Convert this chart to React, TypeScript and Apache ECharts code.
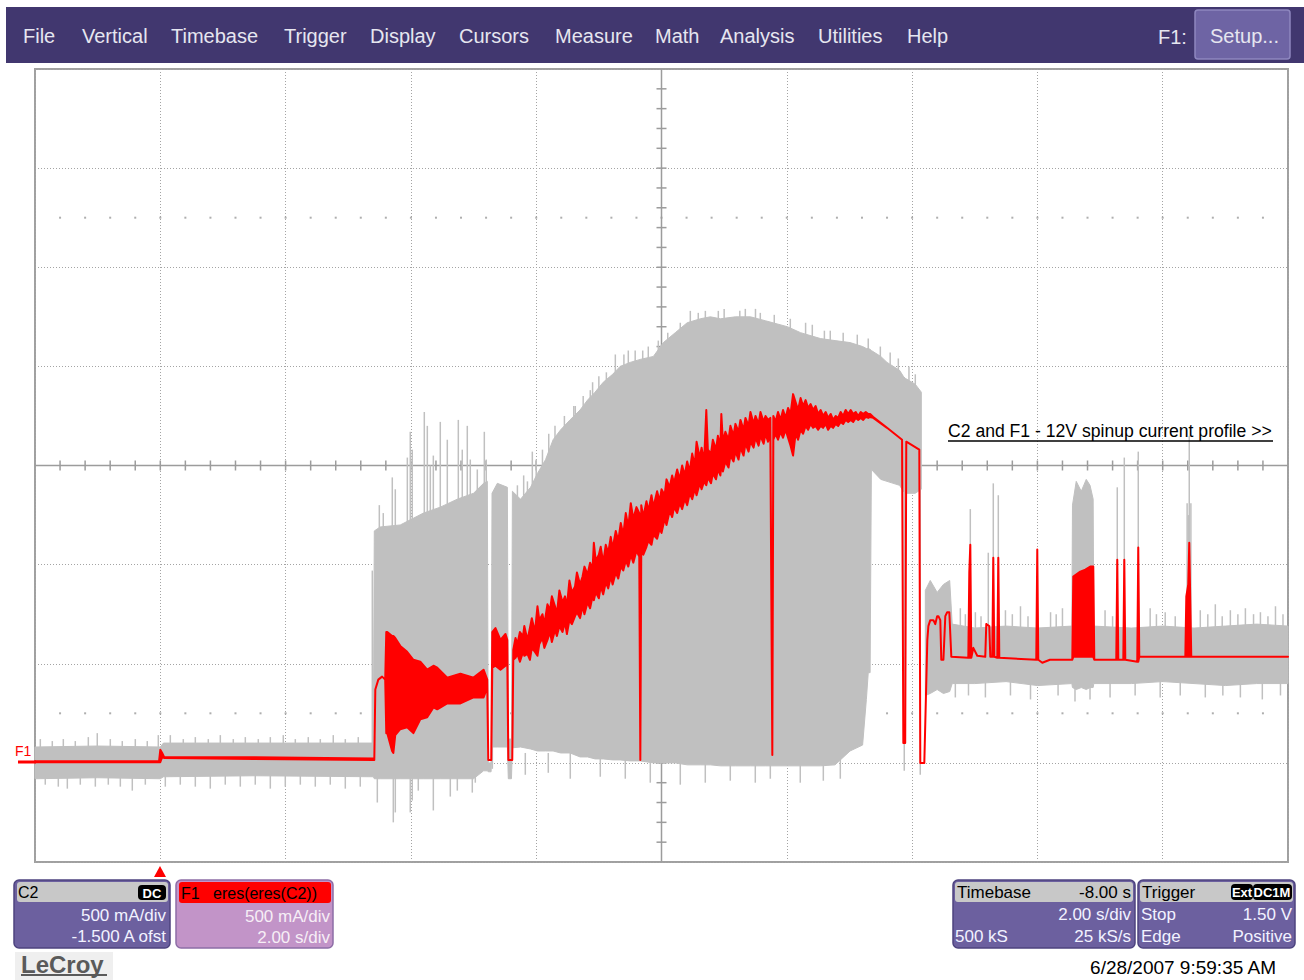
import React, { useEffect, useRef } from "react";
import * as echarts from "echarts";

// ---------- scales: 2.00 s/div, 500 mA/div, -1.500 A offset ----------
const TIME_MIN = -2;
const TIME_MAX = 18;
const TIME_DIV = 2;
const AMP_MIN = -0.5;
const AMP_MAX = 3.5;
const AMP_DIV = 0.5;
const CENTER_T = 8;
const CENTER_A = 1.5;
const MINOR_T = 0.4;
const MINOR_A = 0.1;

type Row = [number, number, number]; // [time s, low A, high A]

// C2 (raw current, grey) min/max envelope; null splits separate blocks
const c2Envelope: (Row | null)[] = [
  [-2.0, -0.08, 0.08], [-1.0, -0.075, 0.085], [0.0, -0.08, 0.08], [0.05, -0.07, 0.1],
  [1.5, -0.065, 0.1], [3.4, -0.07, 0.1],
  [3.416, -0.08, 1.17], [3.51, -0.08, 1.19], [3.83, -0.08, 1.2], [4.2, -0.08, 1.26],
  [4.47, -0.08, 1.29], [4.74, -0.08, 1.33], [5.0, -0.08, 1.36], [5.16, -0.04, 1.41],
  [5.22, -0.04, 1.42], [5.235, -0.045, 0.0], [5.28, -0.045, 0.0],
  [5.295, 0.08, 1.36], [5.38, 0.08, 1.41], [5.54, 0.08, 1.39],
  [5.555, -0.08, 0.12], [5.605, -0.08, 0.12],
  [5.62, 0.076, 1.37], [5.75, 0.08, 1.33], [5.91, 0.07, 1.39], [6.02, 0.06, 1.46],
  [6.15, 0.06, 1.53], [6.27, 0.06, 1.63], [6.39, 0.05, 1.68], [6.54, 0.05, 1.73],
  [6.7, 0.03, 1.78], [6.82, 0.03, 1.83], [6.94, 0.02, 1.87], [7.07, 0.02, 1.92],
  [7.22, 0.015, 1.96], [7.34, 0.015, 2.0], [7.5, 0.01, 2.02], [7.66, 0.01, 2.035],
  [7.87, 0.0, 2.05], [8.03, 0.0, 2.12], [8.22, 0.0, 2.17], [8.41, -0.01, 2.22],
  [8.62, -0.01, 2.24], [8.78, -0.01, 2.25], [8.94, -0.015, 2.24], [9.18, -0.015, 2.25],
  [9.42, -0.015, 2.25], [9.66, -0.015, 2.23], [10.01, -0.015, 2.2], [10.22, -0.015, 2.17],
  [10.54, -0.015, 2.14], [10.77, -0.01, 2.13], [11.01, 0.06, 2.12], [11.21, 0.09, 2.1],
  [11.27, 0.32, 2.09], [11.3, 0.455, 2.09], [11.33, 0.455, 2.086], [11.35, 1.48, 2.08],
  [11.5, 1.43, 2.05], [11.6, 1.42, 2.02], [11.8, 1.4, 1.98], [11.86, 1.37, 1.95],
  [11.89, 1.36, 1.94], [12.05, 1.36, 1.91], [12.147, 1.38, 1.87],
  null,
  [12.211, 0.34, 0.87], [12.29, 0.35, 0.92], [12.4, 0.37, 0.86], [12.5, 0.35, 0.9],
  [12.6, 0.36, 0.92], [12.64, 0.4, 0.7], [13.0, 0.4, 0.68], [13.5, 0.41, 0.69],
  [14.0, 0.39, 0.68], [14.55, 0.4, 0.69], [14.56, 0.38, 1.3], [14.62, 0.37, 1.42],
  [14.7, 0.38, 1.37], [14.78, 0.37, 1.43], [14.84, 0.38, 1.4], [14.89, 0.38, 1.33],
  [14.9, 0.4, 0.69], [15.5, 0.4, 0.68], [16.0, 0.41, 0.69], [16.5, 0.4, 0.68],
  [17.0, 0.39, 0.69], [17.5, 0.4, 0.7], [18.0, 0.4, 0.69],
];

// C2 single-sample excursions (hairlines)
const c2Spikes: Row[] = [
  [-1.915, 0.05, 0.12], [-1.724, 0.05, 0.11], [-1.548, 0.05, 0.12], [-1.357, 0.05, 0.11],
  [-1.149, 0.05, 0.13], [-1.006, 0.05, 0.15], [-0.798, 0.05, 0.12], [-0.607, 0.05, 0.11],
  [-0.399, 0.05, 0.12], [-0.208, 0.05, 0.11], [-0.032, 0.05, 0.14], [0.16, 0.05, 0.14],
  [0.367, 0.05, 0.12], [0.559, 0.05, 0.13], [0.766, 0.05, 0.12], [0.958, 0.05, 0.14],
  [1.165, 0.05, 0.12], [1.357, 0.05, 0.13], [1.564, 0.05, 0.12], [1.756, 0.05, 0.13],
  [1.963, 0.05, 0.14], [2.155, 0.05, 0.12], [2.362, 0.05, 0.13], [2.554, 0.05, 0.12],
  [2.761, 0.05, 0.14], [2.953, 0.05, 0.12], [3.16, 0.05, 0.13],
  [-1.836, -0.11, -0.05], [-1.628, -0.12, -0.05], [-1.484, -0.13, -0.05], [-1.277, -0.11, -0.05],
  [-1.037, -0.12, -0.05], [-0.83, -0.11, -0.05], [-0.638, -0.12, -0.05], [-0.447, -0.14, -0.05],
  [-0.239, -0.11, -0.05], [0.08, -0.12, -0.05], [0.319, -0.11, -0.05], [0.559, -0.12, -0.05],
  [0.798, -0.13, -0.05], [1.037, -0.11, -0.05], [1.277, -0.12, -0.05], [1.516, -0.11, -0.05],
  [1.756, -0.13, -0.05], [1.995, -0.12, -0.05], [2.235, -0.11, -0.05], [2.474, -0.12, -0.05],
  [2.713, -0.11, -0.05], [2.953, -0.13, -0.05], [3.192, -0.12, -0.05],
  [3.384, 0.0, 0.97],
  [3.496, 1.1, 1.3], [3.559, 1.1, 1.26], [3.703, 1.1, 1.44], [3.751, 1.1, 1.38],
  [3.943, 1.1, 1.54], [3.99, 1.1, 1.67], [4.022, 1.1, 1.58], [4.214, 1.1, 1.77],
  [4.262, 1.1, 1.7], [4.31, 1.1, 1.5], [4.358, 1.1, 1.55], [4.469, 1.1, 1.72],
  [4.581, 1.1, 1.63], [4.757, 1.1, 1.73], [4.82, 1.1, 1.58], [4.9, 1.1, 1.7],
  [4.948, 1.1, 1.53], [5.06, 1.2, 1.48], [5.172, 1.2, 1.67], [5.203, 1.2, 1.53],
  [3.464, -0.2, -0.05], [3.719, -0.3, -0.05], [3.751, -0.25, -0.05], [3.99, -0.25, -0.05],
  [4.022, -0.19, -0.05], [4.118, -0.14, -0.05], [4.358, -0.24, -0.05], [4.629, -0.17, -0.05],
  [4.741, -0.14, -0.05], [4.98, -0.15, -0.05], [5.028, -0.1, -0.05], [5.3, -0.03, 0.1],
  [5.7, 1.2, 1.4], [5.8, 1.2, 1.45], [5.86, 1.2, 1.42], [5.938, 1.3, 1.57], [6.0, 1.3, 1.53],
  [6.1, 1.3, 1.58], [6.2, 1.4, 1.66], [6.3, 1.5, 1.7], [6.45, 1.5, 1.75], [6.6, 1.6, 1.8],
  [6.624, 1.6, 1.8], [6.75, 1.6, 1.85], [6.863, 1.7, 1.88], [6.9, 1.7, 1.92], [7.0, 1.7, 1.95],
  [7.12, 1.8, 1.97], [7.263, 1.9, 2.06], [7.4, 1.9, 2.06], [7.47, 1.9, 2.08], [7.58, 1.9, 2.08],
  [7.7, 1.9, 2.08], [7.789, 1.9, 2.1], [7.949, 1.9, 2.13], [8.1, 2.0, 2.17], [8.3, 2.0, 2.22],
  [8.46, 2.1, 2.28], [8.587, 2.1, 2.27], [8.7, 2.1, 2.28], [8.907, 2.1, 2.28], [9.0, 2.1, 2.29],
  [9.25, 2.1, 2.28], [9.338, 2.1, 2.29], [9.5, 2.1, 2.29], [9.577, 2.1, 2.27], [9.8, 2.1, 2.26],
  [10.056, 2.1, 2.24], [10.3, 2.0, 2.22], [10.407, 2.0, 2.21], [10.6, 2.0, 2.18], [10.694, 2.0, 2.18],
  [10.9, 2.0, 2.17], [11.125, 2.0, 2.16], [11.3, 2.0, 2.14], [11.493, 1.9, 2.1], [11.65, 1.9, 2.07],
  [11.78, 1.9, 2.04], [11.95, 1.8, 2.0], [12.051, 1.8, 1.96],
  [5.826, -0.06, 0.05], [6.193, -0.05, 0.05], [6.544, -0.08, 0.05], [7.023, -0.07, 0.05],
  [7.422, -0.08, 0.05], [7.821, -0.1, 0.05], [8.3, -0.11, 0.05], [8.699, -0.1, 0.05],
  [9.098, -0.09, 0.05], [9.497, -0.1, 0.05], [9.737, -0.08, 0.05], [10.215, -0.1, 0.05],
  [10.583, -0.09, 0.05], [10.854, -0.08, 0.05],
  [11.875, -0.04, 1.4], [12.13, -0.06, 1.4],
  [12.929, 0.5, 1.28], [13.216, 0.5, 1.06], [13.296, 0.5, 1.41], [13.376, 0.5, 1.35],
  [15.275, 0.5, 1.39], [15.387, 0.5, 1.54], [15.61, 0.5, 1.57], [16.424, 0.5, 1.65],
  [16.39, 0.5, 1.31], [16.41, 0.5, 1.25], [16.45, 0.5, 1.31],
  [12.77, 0.6, 0.78], [12.85, 0.6, 0.75], [13.01, 0.6, 0.76], [13.1, 0.6, 0.74], [13.49, 0.6, 0.77],
  [13.6, 0.6, 0.75], [13.73, 0.6, 0.79], [13.85, 0.6, 0.74], [14.21, 0.6, 0.76], [14.3, 0.6, 0.75],
  [14.4, 0.6, 0.78], [15.08, 0.6, 0.77], [15.2, 0.6, 0.74], [15.8, 0.6, 0.78], [15.9, 0.6, 0.75],
  [16.04, 0.6, 0.76], [16.2, 0.6, 0.74], [16.6, 0.6, 0.77], [16.72, 0.6, 0.75], [16.84, 0.6, 0.8],
  [16.95, 0.6, 0.74], [17.08, 0.6, 0.77], [17.2, 0.6, 0.75], [17.32, 0.6, 0.78], [17.45, 0.6, 0.75],
  [17.56, 0.6, 0.76], [17.68, 0.6, 0.74], [17.8, 0.6, 0.79], [17.92, 0.6, 0.75],
  [12.69, 0.33, 0.5], [12.9, 0.34, 0.5], [13.17, 0.33, 0.5], [13.57, 0.34, 0.5],
  [13.89, 0.32, 0.5], [14.33, 0.34, 0.5], [14.6, 0.31, 0.5], [14.84, 0.32, 0.5],
  [15.16, 0.33, 0.5], [15.56, 0.34, 0.5], [15.96, 0.33, 0.5], [16.28, 0.34, 0.5],
  [16.68, 0.33, 0.5], [16.96, 0.34, 0.5], [17.24, 0.33, 0.5], [17.59, 0.32, 0.5],
  [17.88, 0.34, 0.5],
];

// F1 = eres(eres(C2)) (red), min/max per time step
const f1Trace: Row[] = [
  [-2.0, 0.003, 0.008], [-0.02, 0.003, 0.008], [0.0, 0.003, 0.066], [0.03, 0.03, 0.05],
  [0.06, 0.025, 0.03], [1.5, 0.02, 0.028], [3.4, 0.015, 0.022], [3.416, 0.015, 0.022],
  [3.432, 0.37, 0.37], [3.48, 0.42, 0.42], [3.54, 0.435, 0.435], [3.59, 0.42, 0.42],
  [3.607, 0.15, 0.66], [3.623, 0.15, 0.66], [3.7, 0.06, 0.64], [3.72, 0.05, 0.64],
  [3.75, 0.14, 0.63], [3.83, 0.17, 0.59], [3.94, 0.18, 0.56], [4.04, 0.15, 0.52],
  [4.15, 0.22, 0.51], [4.26, 0.23, 0.47], [4.36, 0.28, 0.49], [4.42, 0.27, 0.48],
  [4.58, 0.3, 0.43], [4.79, 0.3, 0.45], [5.0, 0.33, 0.43], [5.16, 0.33, 0.47],
  [5.219, 0.38, 0.42], [5.235, 0.015, 0.015], [5.283, 0.015, 0.015],
  [5.299, 0.48, 0.66], [5.35, 0.49, 0.68], [5.43, 0.47, 0.62], [5.51, 0.49, 0.65],
  [5.539, 0.5, 0.62], [5.555, 0.015, 0.015], [5.618, 0.015, 0.015], [5.634, 0.52, 0.57],
  [5.67, 0.53, 0.63], [5.7, 0.55, 0.6], [5.74, 0.51, 0.66], [5.79, 0.56, 0.64],
  [5.81, 0.54, 0.69], [5.86, 0.55, 0.62], [5.9, 0.52, 0.68], [5.93, 0.58, 0.73],
  [5.98, 0.56, 0.66], [6.02, 0.54, 0.79], [6.05, 0.6, 0.72], [6.1, 0.63, 0.75],
  [6.13, 0.58, 0.7], [6.18, 0.62, 0.8], [6.22, 0.66, 0.77], [6.25, 0.61, 0.84],
  [6.3, 0.67, 0.79], [6.33, 0.64, 0.75], [6.37, 0.69, 0.87], [6.42, 0.66, 0.81],
  [6.46, 0.71, 0.84], [6.49, 0.65, 0.79], [6.53, 0.72, 0.92], [6.57, 0.7, 0.86],
  [6.62, 0.74, 0.89], [6.65, 0.76, 0.96], [6.7, 0.73, 0.9], [6.74, 0.79, 0.94],
  [6.77, 0.75, 0.99], [6.82, 0.81, 0.95], [6.86, 0.78, 1.01], [6.9, 0.84, 0.98],
  [6.92, 0.82, 1.11], [6.95, 0.86, 1.02], [7.0, 0.83, 1.05], [7.03, 0.89, 1.09],
  [7.07, 0.85, 1.01], [7.11, 0.91, 1.1], [7.15, 0.88, 1.06], [7.19, 0.94, 1.14],
  [7.22, 0.9, 1.08], [7.27, 0.96, 1.17], [7.31, 0.93, 1.12], [7.35, 0.99, 1.21],
  [7.39, 0.97, 1.15], [7.43, 1.02, 1.26], [7.47, 0.99, 1.19], [7.51, 1.05, 1.31],
  [7.55, 1.01, 1.23], [7.6, 1.07, 1.29], [7.645, 1.04, 1.26], [7.662, 0.015, 0.015],
  [7.677, 1.08, 1.3], [7.71, 1.05, 1.24], [7.76, 1.09, 1.32], [7.79, 1.12, 1.27],
  [7.84, 1.1, 1.35], [7.87, 1.15, 1.29], [7.93, 1.13, 1.37], [7.97, 1.18, 1.32],
  [8.0, 1.16, 1.38], [8.05, 1.23, 1.35], [8.08, 1.2, 1.43], [8.13, 1.27, 1.39],
  [8.17, 1.24, 1.45], [8.2, 1.29, 1.41], [8.25, 1.26, 1.48], [8.29, 1.31, 1.43],
  [8.33, 1.28, 1.5], [8.37, 1.33, 1.45], [8.41, 1.3, 1.52], [8.45, 1.36, 1.47],
  [8.49, 1.33, 1.56], [8.53, 1.38, 1.5], [8.56, 1.35, 1.62], [8.61, 1.41, 1.54],
  [8.64, 1.38, 1.59], [8.68, 1.42, 1.52], [8.715, 1.4, 1.78], [8.74, 1.44, 1.58],
  [8.79, 1.41, 1.56], [8.82, 1.46, 1.63], [8.87, 1.43, 1.58], [8.9, 1.48, 1.65],
  [8.94, 1.45, 1.6], [8.955, 1.5, 1.76], [8.98, 1.47, 1.62], [9.02, 1.52, 1.67],
  [9.07, 1.49, 1.63], [9.1, 1.55, 1.7], [9.15, 1.52, 1.65], [9.18, 1.57, 1.71],
  [9.23, 1.53, 1.67], [9.26, 1.59, 1.73], [9.31, 1.55, 1.68], [9.34, 1.61, 1.74],
  [9.39, 1.57, 1.7], [9.42, 1.62, 1.77], [9.47, 1.59, 1.71], [9.5, 1.64, 1.75],
  [9.55, 1.6, 1.71], [9.58, 1.65, 1.77], [9.63, 1.61, 1.72], [9.66, 1.66, 1.75],
  [9.7, 1.62, 1.73], [9.737, 1.65, 1.74], [9.769, 0.04, 0.04], [9.785, 1.63, 1.75],
  [9.82, 1.66, 1.72], [9.86, 1.63, 1.77], [9.9, 1.67, 1.73], [9.94, 1.64, 1.78],
  [9.98, 1.68, 1.74], [10.02, 1.64, 1.79], [10.06, 1.6, 1.76], [10.1, 1.55, 1.86],
  [10.14, 1.66, 1.82], [10.18, 1.63, 1.78], [10.22, 1.68, 1.84], [10.26, 1.66, 1.8],
  [10.3, 1.7, 1.83], [10.34, 1.68, 1.79], [10.38, 1.71, 1.81], [10.42, 1.69, 1.78],
  [10.46, 1.7, 1.8], [10.5, 1.68, 1.76], [10.54, 1.7, 1.78], [10.58, 1.69, 1.75],
  [10.62, 1.71, 1.77], [10.66, 1.68, 1.74], [10.7, 1.7, 1.76], [10.74, 1.69, 1.73],
  [10.78, 1.71, 1.75], [10.82, 1.7, 1.74], [10.86, 1.72, 1.77], [10.9, 1.71, 1.75],
  [10.94, 1.73, 1.78], [10.98, 1.72, 1.76], [11.02, 1.73, 1.78], [11.06, 1.72, 1.76],
  [11.1, 1.74, 1.77], [11.14, 1.73, 1.75], [11.18, 1.74, 1.77], [11.22, 1.73, 1.76],
  [11.26, 1.745, 1.77], [11.3, 1.74, 1.76], [11.33, 1.745, 1.76], [11.38, 1.74, 1.745],
  [11.6, 1.69, 1.69], [11.84, 1.63, 1.63],
  [11.86, 0.1, 0.1], [11.89, 0.1, 0.1], [11.907, 1.62, 1.62], [12.115, 1.58, 1.58],
  [12.131, 0.0, 0.0], [12.195, 0.0, 0.0], [12.243, 0.62, 0.62], [12.26, 0.69, 0.69],
  [12.29, 0.72, 0.72], [12.34, 0.72, 0.72], [12.37, 0.7, 0.7], [12.4, 0.74, 0.74],
  [12.42, 0.74, 0.74], [12.45, 0.72, 0.72], [12.466, 0.52, 0.52], [12.5, 0.52, 0.52],
  [12.53, 0.74, 0.74], [12.56, 0.76, 0.76], [12.594, 0.76, 0.76], [12.626, 0.535, 0.535],
  [12.897, 0.53, 0.53], [12.913, 0.53, 0.96], [12.929, 0.53, 1.1], [12.945, 0.53, 0.53],
  [12.977, 0.58, 0.58], [13.04, 0.54, 0.54], [13.168, 0.535, 0.535], [13.184, 0.7, 0.7],
  [13.232, 0.69, 0.69], [13.248, 0.535, 0.535], [13.28, 0.535, 0.535], [13.296, 0.535, 1.035],
  [13.312, 0.535, 0.535], [13.36, 0.53, 0.53], [13.376, 0.53, 1.035], [13.392, 0.53, 0.53],
  [13.982, 0.52, 0.52], [13.998, 0.52, 1.076], [14.014, 0.52, 0.52], [14.078, 0.505, 0.505],
  [14.2, 0.52, 0.52], [14.557, 0.52, 0.52], [14.573, 0.535, 0.94], [14.685, 0.535, 0.965],
  [14.765, 0.535, 0.975], [14.844, 0.535, 0.99], [14.892, 0.535, 0.99], [14.908, 0.52, 0.52],
  [15.259, 0.52, 0.52], [15.275, 0.52, 1.025], [15.291, 0.52, 0.52], [15.371, 0.52, 0.52],
  [15.387, 0.52, 1.025], [15.403, 0.52, 0.52], [15.594, 0.51, 0.51], [15.61, 0.51, 1.086],
  [15.626, 0.535, 0.535], [16.361, 0.535, 0.535], [16.377, 0.535, 0.84], [16.408, 0.535, 0.9],
  [16.424, 0.535, 1.11], [16.44, 0.535, 0.82], [16.456, 0.535, 0.535], [18.0, 0.535, 0.535],
];

// ---------- texts ----------
const menuItems = ["File", "Vertical", "Timebase", "Trigger", "Display", "Cursors", "Measure", "Math", "Analysis", "Utilities", "Help"];
const menuLeft = [23, 82, 171, 284, 370, 459, 555, 655, 720, 818, 907];
const annotation = "C2 and F1 - 12V spinup current profile >>";
const c2Lines = ["500 mA/div", "-1.500 A ofst"];
const f1Title = "F1   eres(eres(C2))";
const f1Lines = ["500 mA/div", "2.00 s/div"];
const timebaseHead = ["Timebase", "-8.00 s"];
const timebaseRows = [["", "2.00 s/div"], ["500 kS", "25 kS/s"]];
const triggerRows = [["Stop", "1.50 V"], ["Edge", "Positive"]];
const timestamp = "6/28/2007 9:59:35 AM";

const FONT = '"Liberation Sans", Arial, sans-serif';

function txt(text: string, x: number, y: number, size: number, fill: string, align = "left", weight = "normal") {
  return {
    type: "text",
    z: 20,
    style: {
      text, x, y, fill,
      font: `${weight} ${size}px ${FONT}`,
      align, verticalAlign: "middle",
      textAlign: align, textVerticalAlign: "middle",
    },
  };
}
function rect(x: number, y: number, w: number, h: number, fill: string, r = 0, stroke?: string, lw = 1) {
  return {
    type: "rect", z: 10,
    shape: { x, y, width: w, height: h, r },
    style: { fill, stroke: stroke || null, lineWidth: lw },
  };
}

function bandRender(rows: (Row | null)[], color: string, width: number) {
  return (_p: any, api: any) => {
    const segs: Row[][] = [];
    let cur: Row[] = [];
    rows.forEach((r) => {
      if (r) cur.push(r);
      else { if (cur.length) segs.push(cur); cur = []; }
    });
    if (cur.length) segs.push(cur);
    const children = segs.map((seg) => {
      const top = seg.map((r) => api.coord([r[0], r[2]]));
      const bot = seg.slice().reverse().map((r) => api.coord([r[0], r[1]]));
      return {
        type: "polygon",
        shape: { points: top.concat(bot) },
        style: { fill: color, stroke: color, lineWidth: width, lineJoin: "round" },
      };
    });
    return { type: "group", children };
  };
}

function spikeRender(color: string, width: number) {
  return (_p: any, api: any) => {
    const a = api.coord([api.value(0), api.value(1)]);
    const b = api.coord([api.value(0), api.value(2)]);
    return {
      type: "line",
      shape: { x1: a[0], y1: a[1], x2: b[0], y2: b[1] },
      style: { stroke: color, lineWidth: width },
    };
  };
}

export default function App() {
  const ref = useRef<HTMLDivElement>(null);
  useEffect(() => {
    document.body.style.margin = "0";
    if (!ref.current) return;
    const chart = echarts.init(ref.current, undefined, { renderer: "svg" });

    const timeTicks: number[][] = [];
    for (let k = 1; k < Math.round((TIME_MAX - TIME_MIN) / MINOR_T); k++) {
      timeTicks.push([+(TIME_MIN + k * MINOR_T).toFixed(3), CENTER_A]);
    }
    const ampTicks: number[][] = [];
    for (let k = 1; k < Math.round((AMP_MAX - AMP_MIN) / MINOR_A); k++) {
      ampTicks.push([CENTER_T, +(AMP_MIN + k * MINOR_A).toFixed(3)]);
    }
    const dotRows: number[][] = [];
    timeTicks.forEach((p) => {
      dotRows.push([p[0], CENTER_A + 2.5 * AMP_DIV]);
      dotRows.push([p[0], CENTER_A - 2.5 * AMP_DIV]);
    });

    const gridColor = "#a4a4a4";
    const axisCommon = {
      axisLine: { show: false },
      axisTick: { show: false },
      axisLabel: { show: false },
      splitLine: { show: true, lineStyle: { color: gridColor, type: [1, 2], width: 1 } },
    };

    const option: any = {
      animation: false,
      backgroundColor: "#ffffff",
      grid: {
        left: 35, right: 16, top: 69, bottom: 118,
        show: true, borderColor: "#a0a0a0", borderWidth: 2, backgroundColor: "#ffffff",
      },
      xAxis: { type: "value", min: TIME_MIN, max: TIME_MAX, interval: TIME_DIV, ...axisCommon },
      yAxis: { type: "value", min: AMP_MIN, max: AMP_MAX, interval: AMP_DIV, ...axisCommon },
      series: [
        {
          type: "scatter", name: "graticule dots", silent: true, z: 1,
          symbol: "rect", symbolSize: 2, itemStyle: { color: "#9a9a9a" },
          data: dotRows,
        },
        {
          type: "custom", name: "center axes", silent: true, z: 1,
          data: [[CENTER_T, CENTER_A]],
          encode: { x: 0, y: 1 },
          renderItem: (_p: any, api: any) => {
            const l = api.coord([TIME_MIN, CENTER_A]);
            const r = api.coord([TIME_MAX, CENTER_A]);
            const t = api.coord([CENTER_T, AMP_MAX]);
            const b = api.coord([CENTER_T, AMP_MIN]);
            return {
              type: "group",
              children: [
                { type: "line", shape: { x1: l[0], y1: l[1], x2: r[0], y2: r[1] }, style: { stroke: "#9c9c9c", lineWidth: 1.5 } },
                { type: "line", shape: { x1: t[0], y1: t[1], x2: b[0], y2: b[1] }, style: { stroke: "#9c9c9c", lineWidth: 1.5 } },
              ],
            };
          },
        },
        {
          type: "custom", name: "time ticks", silent: true, z: 1,
          data: timeTicks, encode: { x: 0, y: 1 },
          renderItem: (_p: any, api: any) => {
            const c = api.coord([api.value(0), api.value(1)]);
            return { type: "line", shape: { x1: c[0], y1: c[1] - 5, x2: c[0], y2: c[1] + 5 }, style: { stroke: "#9c9c9c", lineWidth: 1.5 } };
          },
        },
        {
          type: "custom", name: "amp ticks", silent: true, z: 1,
          data: ampTicks, encode: { x: 0, y: 1 },
          renderItem: (_p: any, api: any) => {
            const c = api.coord([api.value(0), api.value(1)]);
            return { type: "line", shape: { x1: c[0] - 5, y1: c[1], x2: c[0] + 5, y2: c[1] }, style: { stroke: "#9c9c9c", lineWidth: 1.5 } };
          },
        },
        {
          type: "custom", name: "C2", silent: true, z: 3,
          data: [[TIME_MIN, 0]], encode: { x: 0, y: 1 },
          renderItem: bandRender(c2Envelope, "#c0c0c0", 1),
        },
        {
          type: "custom", name: "C2 spikes", silent: true, z: 3,
          data: c2Spikes, encode: { x: 0, y: [1, 2] },
          renderItem: spikeRender("#c0c0c0", 1.5),
        },
        {
          type: "custom", name: "F1", silent: true, z: 4,
          data: [[TIME_MIN, 0]], encode: { x: 0, y: 1 },
          renderItem: bandRender(f1Trace, "#ff0000", 2),
        },
      ],
      graphic: [
        // menu bar
        rect(6, 7, 1298, 56, "#41376f"),
        ...menuItems.map((m, i) => txt(m, menuLeft[i], 36, 20, "#e6e6f0")),
        txt("F1:", 1158, 37, 20, "#e6e6f0"),
        rect(1195, 10, 95, 49, "#6e64a4", 3, "#8e87bf", 1.5),
        txt("Setup...", 1210, 36, 20, "#e6e6f0"),
        // annotation
        txt(annotation, 948, 431, 17.6, "#000000"),
        { type: "line", z: 20, shape: { x1: 948, y1: 441, x2: 1273, y2: 441 }, style: { stroke: "#000", lineWidth: 1.5 } },
        // F1 channel marker
        txt("F1", 15, 751, 14, "#ff0000"),
        { type: "line", z: 20, shape: { x1: 18, y1: 762, x2: 36, y2: 762 }, style: { stroke: "#ff0000", lineWidth: 3 } },
        // trigger marker
        { type: "polygon", z: 20, shape: { points: [[154, 877], [166, 877], [160, 866]] }, style: { fill: "#ff0000" } },
        // C2 descriptor
        rect(14, 880, 156, 68, "#6c609f", 5, "#4d437f", 1.5),
        rect(17, 882, 151, 20, "#c8c8c8", 3),
        txt("C2", 18, 892, 16, "#000"),
        rect(138, 885, 28, 15, "#000", 4),
        txt("DC", 152, 893, 13, "#fff", "center", "bold"),
        txt(c2Lines[0], 166, 915, 17, "#f2f2ff", "right"),
        txt(c2Lines[1], 166, 936, 17, "#f2f2ff", "right"),
        // F1 descriptor
        rect(176, 880, 157, 68, "#c294c8", 5, "#8d6da6", 1.5),
        rect(179, 882, 152, 21, "#ff0000", 3),
        txt(f1Title, 181, 893, 16, "#000"),
        txt(f1Lines[0], 330, 916, 17, "#f6eef6", "right"),
        txt(f1Lines[1], 330, 937, 17, "#f6eef6", "right"),
        // logo
        rect(15, 952, 98, 28, "#efefef"),
        txt("LeCroy", 21, 964, 24, "#5a5a5a", "left", "bold"),
        { type: "line", z: 20, shape: { x1: 21, y1: 975, x2: 107, y2: 975 }, style: { stroke: "#5a5a5a", lineWidth: 2 } },
        // timebase descriptor
        rect(953, 880, 182, 68, "#6c609f", 5, "#4d437f", 1.5),
        rect(955, 882, 178, 20, "#c8c8c8", 3),
        txt(timebaseHead[0], 957, 892, 17, "#000"),
        txt(timebaseHead[1], 1131, 892, 17, "#000", "right"),
        txt(timebaseRows[0][1], 1131, 914, 17, "#f2f2ff", "right"),
        txt(timebaseRows[1][0], 955, 936, 17, "#f2f2ff"),
        txt(timebaseRows[1][1], 1131, 936, 17, "#f2f2ff", "right"),
        // trigger descriptor
        rect(1138, 880, 157, 68, "#6c609f", 5, "#4d437f", 1.5),
        rect(1140, 882, 153, 20, "#c8c8c8", 3),
        txt("Trigger", 1142, 892, 17, "#000"),
        rect(1231, 884, 22, 16, "#000", 4),
        txt("Ext", 1242, 892, 13, "#fff", "center", "bold"),
        rect(1253, 884, 39, 16, "#000", 4),
        txt("DC1M", 1272, 892, 13, "#fff", "center", "bold"),
        txt(triggerRows[0][0], 1141, 914, 17, "#f2f2ff"),
        txt(triggerRows[0][1], 1292, 914, 17, "#f2f2ff", "right"),
        txt(triggerRows[1][0], 1141, 936, 17, "#f2f2ff"),
        txt(triggerRows[1][1], 1292, 936, 17, "#f2f2ff", "right"),
        // timestamp
        txt(timestamp, 1276, 967, 19, "#000", "right"),
      ],
    };
    chart.setOption(option);
    return () => chart.dispose();
  }, []);

  return (
    <div
      ref={ref}
      style={{ position: "absolute", left: 0, top: 0, width: 1304, height: 980, background: "#fff" }}
    />
  );
}
